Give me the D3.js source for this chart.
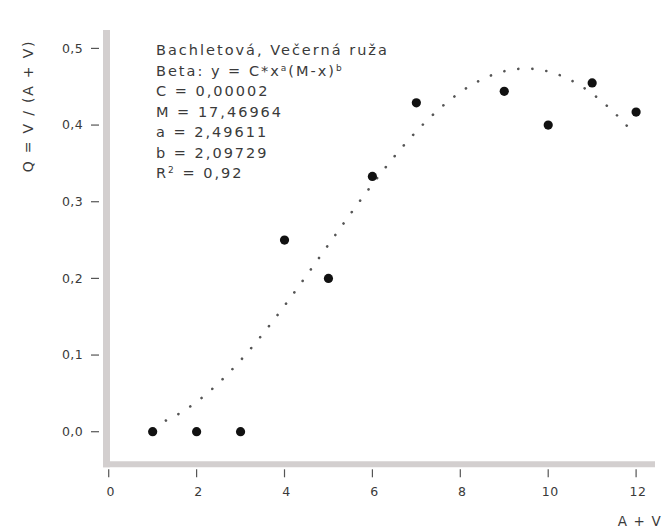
<!DOCTYPE html>
<html>
<head>
<meta charset="utf-8">
<script src="https://cdn.jsdelivr.net/npm/d3@7"></script>
<style>
  html, body { margin: 0; padding: 0; background: #fff; }
  svg { display: block; }
  text { font-family: "DejaVu Sans", sans-serif; fill: #3a3a3a; }
</style>
</head>
<body>
<svg id="chart" width="664" height="532"></svg>
<script>
// Observed ratio Q = V / (A + V) for each total A + V
const totals = [1, 2, 3, 4, 5, 6, 7, 9, 10, 11, 12];
const ratios = [0, 0, 0, 0.25, 0.2, 0.333, 0.429, 0.444, 0.4, 0.455, 0.417];

// Fitted Beta model y = C * x^a * (M - x)^b (C shown rounded in the legend)
const fitC = 0.0000221;
const fitM = 17.46964;
const fitA = 2.49611;
const fitB = 2.09729;
const fitRange = [1.3, 11.92];

const xTicks = [0, 2, 4, 6, 8, 10, 12];
const yTicks = [0, 0.1, 0.2, 0.3, 0.4, 0.5];

const legendLines = [
  "Bachletová, Večerná ruža",
  "Beta: y = C*x^a(M-x)^b",
  "C = 0,00002",
  "M = 17,46964",
  "a = 2,49611",
  "b = 2,09729",
  "R^2 = 0,92"
];

const svg = d3.select("#chart");

const x = d3.scaleLinear().domain([-0.13, 12.43]).range([103, 655]);
const y = d3.scaleLinear().domain([-0.0425, 0.524]).range([464.3, 30]);

const locale = d3.formatLocale({ decimal: ",", thousands: " ", grouping: [3], currency: ["", ""] });
const fmt1 = locale.format(".1f");

// axis bars
const axisCol = "#d3cfcf";
const x0 = x.range()[0], x1 = x.range()[1];
const y0 = y.range()[0], y1 = y.range()[1];
svg.append("line")
  .attr("x1", x0 + 3.5).attr("x2", x0 + 3.5)
  .attr("y1", y1).attr("y2", y0 + 3)
  .attr("stroke", axisCol).attr("stroke-width", 7);
svg.append("line")
  .attr("x1", x0).attr("x2", x1)
  .attr("y1", y0).attr("y2", y0)
  .attr("stroke", axisCol).attr("stroke-width", 6);

// x ticks
const xt = svg.append("g");
xt.selectAll("line").data(xTicks).join("line")
  .attr("x1", d => x(d)).attr("x2", d => x(d))
  .attr("y1", y0 + 5).attr("y2", y0 + 13)
  .attr("stroke", "#555").attr("stroke-width", 1.2);
xt.selectAll("text").data(xTicks).join("text")
  .attr("x", d => x(d) + 2).attr("y", y0 + 32)
  .attr("text-anchor", "middle")
  .attr("font-size", 12.5)
  .attr("letter-spacing", 0.6)
  .text(d => d);

// y ticks
const yt = svg.append("g");
yt.selectAll("line").data(yTicks).join("line")
  .attr("x1", x0 - 12).attr("x2", x0 - 4)
  .attr("y1", d => y(d)).attr("y2", d => y(d))
  .attr("stroke", "#555").attr("stroke-width", 1.2);
yt.selectAll("text").data(yTicks).join("text")
  .attr("x", x0 - 20).attr("y", d => y(d))
  .attr("dy", "0.35em")
  .attr("text-anchor", "end")
  .attr("font-size", 12.5)
  .attr("letter-spacing", 0.4)
  .text(d => fmt1(d));

// axis titles
svg.append("text")
  .attr("transform", `translate(33,106) rotate(-90)`)
  .attr("text-anchor", "middle")
  .attr("font-size", 14)
  .attr("letter-spacing", 1.8)
  .text("Q = V / (A + V)");
svg.append("text")
  .attr("x", 662).attr("y", 526)
  .attr("text-anchor", "end")
  .attr("font-size", 13.5)
  .attr("letter-spacing", 1.2)
  .text("A + V");

// fitted curve, dotted
const beta = t => fitC * Math.pow(t, fitA) * Math.pow(fitM - t, fitB);
const curveX = d3.range(fitRange[0], fitRange[1] + 1e-9, 0.05);
svg.append("path")
  .datum(curveX)
  .attr("d", d3.line().x(d => x(d)).y(d => y(beta(d))).curve(d3.curveMonotoneX))
  .attr("fill", "none")
  .attr("stroke", "#555")
  .attr("stroke-width", 2.6)
  .attr("stroke-linecap", "round")
  .attr("stroke-dasharray", "0.1 14");

// observations
svg.append("g").selectAll("circle").data(totals).join("circle")
  .attr("cx", d => x(d))
  .attr("cy", (d, i) => y(ratios[i]))
  .attr("r", 4.6)
  .attr("fill", "#111");

// legend with superscripts
const lineGap = 20.5;
const leg = svg.append("text")
  .attr("x", 156).attr("y", 55)
  .attr("font-size", 14.5)
  .attr("letter-spacing", 2);
legendLines.forEach((line, i) => {
  const parts = line.split(/\^(\w)/);
  parts.forEach((p, j) => {
    if (!p) return;
    const ts = leg.append("tspan").text(p);
    if (j === 0) ts.attr("x", 156).attr("y", 55 + i * lineGap);
    if (j % 2 === 1) ts.attr("font-size", 9).attr("baseline-shift", "super");
  });
});
</script>
</body>
</html>
